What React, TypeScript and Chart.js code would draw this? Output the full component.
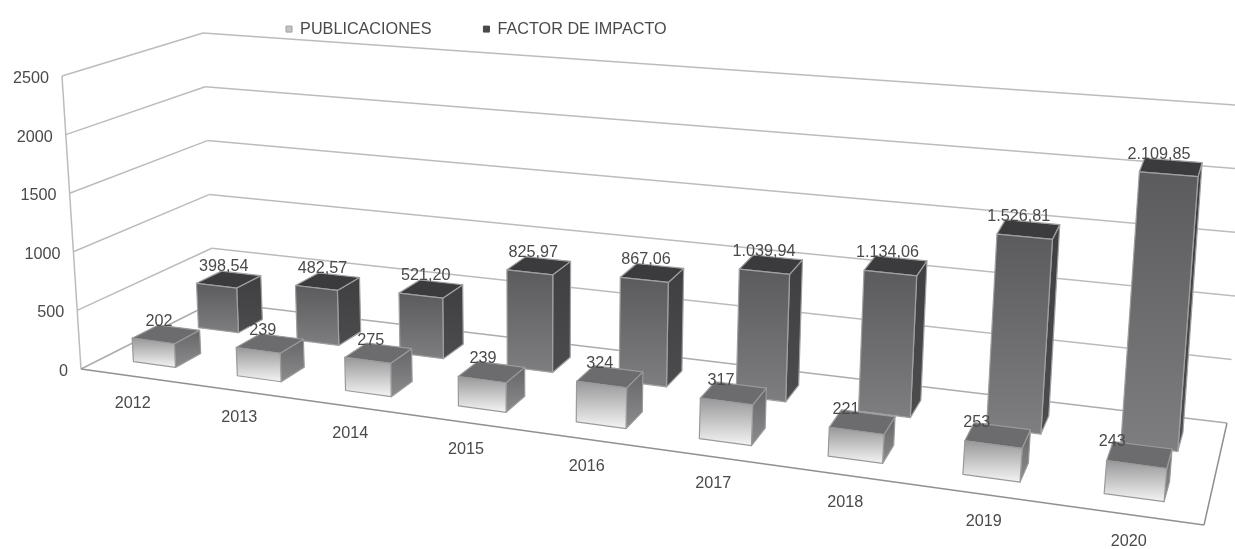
import React, { useEffect, useRef } from "react";
import { Chart, registerables } from "chart.js";

Chart.register(...registerables);

const categories = ["2012", "2013", "2014", "2015", "2016", "2017", "2018", "2019", "2020"];
const publicaciones = [202, 239, 275, 239, 324, 317, 221, 253, 243];
const factorImpacto = [398.54, 482.57, 521.2, 825.97, 867.06, 1039.94, 1134.06, 1526.81, 2109.85];
const yTicks = [0, 500, 1000, 1500, 2000, 2500];
const Y_MAX = 2500;

type Pt = [number, number];
// projection corners of the 3D box: front/back, left/right, floor/top
const FL0: Pt = [81, 369], FLT: Pt = [62, 76];
const BL0: Pt = [214, 302], BLT: Pt = [203, 33];
const FR0: Pt = [1204, 525], FRT: Pt = [1235, 176];
const BR0: Pt = [1227, 423], BRT: Pt = [1250, 106];
const PERSP = 1.22;
const TEXT = "#4a4a4c";
const FAMILY = "'Liberation Sans', Arial, sans-serif";
const FONT = "16.2px " + FAMILY;

const lerp = (a: Pt, b: Pt, k: number): Pt => [a[0] + (b[0] - a[0]) * k, a[1] + (b[1] - a[1]) * k];
const persp = (t: number) => t / (t + PERSP * (1 - t));
// t: position along category axis, v: depth, w: height fraction
function project(t: number, v: number, w: number): Pt {
  const u = persp(t);
  const f = lerp(lerp(FL0, FR0, u), lerp(FLT, FRT, u), w);
  const b = lerp(lerp(BL0, BR0, u), lerp(BLT, BRT, u), w);
  return lerp(f, b, v);
}

function fmt(n: number, decimals: boolean): string {
  if (!decimals) return String(n);
  const [i, d] = n.toFixed(2).split(".");
  return i.replace(/\B(?=(\d{3})+$)/g, ".") + "," + d;
}

function poly(ctx: CanvasRenderingContext2D, pts: Pt[], fill: string | CanvasGradient, stroke: string, lw = 1.2) {
  ctx.beginPath();
  pts.forEach((p, i) => (i ? ctx.lineTo(p[0], p[1]) : ctx.moveTo(p[0], p[1])));
  ctx.closePath();
  ctx.fillStyle = fill;
  ctx.fill();
  ctx.strokeStyle = stroke;
  ctx.lineWidth = lw;
  ctx.lineJoin = "round";
  ctx.stroke();
}

function line(ctx: CanvasRenderingContext2D, a: Pt, b: Pt, color: string, lw: number) {
  ctx.beginPath();
  ctx.moveTo(a[0], a[1]);
  ctx.lineTo(b[0], b[1]);
  ctx.strokeStyle = color;
  ctx.lineWidth = lw;
  ctx.stroke();
}

const styles = [
  { v0: 0.17, v1: 0.37, front: ["#98989a", "#f4f4f4"], side: ["#666668", "#8c8c8e"], top: "#6c6c6e", edge: "#9a9a9a", dec: false },
  { v0: 0.67, v1: 0.86, front: ["#5b5b5d", "#7e7e80"], side: ["#3f3f41", "#4c4c4e"], top: "#3b3b3d", edge: "#a0a0a2", dec: true },
];

const box3d = {
  id: "box3d",
  beforeDatasetsDraw(chart: any) {
    const ctx: CanvasRenderingContext2D = chart.ctx;
    const { left, width } = chart.chartArea;
    const yScale = chart.scales.y;
    ctx.save();

    // walls and floor
    for (const val of yTicks) {
      const w = val / Y_MAX;
      const col = val === 0 ? "#acacac" : "#bcbcbc";
      line(ctx, project(0, 0, w), project(0, 1, w), col, 1.5);
      line(ctx, project(0, 1, w), project(1, 1, w), col, 1.5);
    }
    line(ctx, project(0, 0, 0), project(0, 0, 1), "#bcbcbc", 1.5);
    line(ctx, project(0, 0, 0), project(1, 0, 0), "#909090", 1.5);
    line(ctx, project(1, 0, 0), project(1, 1, 0), "#909090", 1.5);

    // boxes, back row first
    const labels: { text: string; p: Pt }[] = [];
    [1, 0].forEach((dsIndex) => {
      const s = styles[dsIndex];
      const meta = chart.getDatasetMeta(dsIndex);
      const values: number[] = chart.data.datasets[dsIndex].data;
      meta.data.forEach((el: any, i: number) => {
        const t0 = (el.x - el.width / 2 - left) / width;
        const t1 = (el.x + el.width / 2 - left) / width;
        const h = yScale.getValueForPixel(el.y) / Y_MAX;
        const fb0 = project(t0, s.v0, 0), fb1 = project(t1, s.v0, 0);
        const ft0 = project(t0, s.v0, h), ft1 = project(t1, s.v0, h);
        const bb1 = project(t1, s.v1, 0), bt1 = project(t1, s.v1, h);
        const bt0 = project(t0, s.v1, h);

        const fg = ctx.createLinearGradient(0, ft0[1], 0, fb1[1]);
        fg.addColorStop(0, s.front[0]);
        fg.addColorStop(1, s.front[1]);
        const sg = ctx.createLinearGradient(0, bt1[1], 0, fb1[1]);
        sg.addColorStop(0, s.side[0]);
        sg.addColorStop(1, s.side[1]);

        poly(ctx, [ft1, bt1, bb1, fb1], sg, s.edge);
        poly(ctx, [ft0, ft1, bt1, bt0], s.top, s.edge);
        poly(ctx, [ft0, ft1, fb1, fb0], fg, s.edge);

        const cx = (ft0[0] + bt1[0]) / 2;
        const cy = (ft0[1] + ft1[1] + bt1[1] + bt0[1]) / 4;
        const k = Math.pow((el.x - left) / width, 3);
        const dx = dsIndex === 0 ? -7 - 24 * k : -5 - 8 * k;
        labels.push({ text: fmt(values[i], s.dec), p: [cx + dx, cy - 13] });
      });
    });

    ctx.font = FONT;
    ctx.fillStyle = TEXT;
    ctx.textBaseline = "middle";
    ctx.textAlign = "center";
    labels.forEach((l) => ctx.fillText(l.text, l.p[0], l.p[1]));

    // category labels on the floor edge
    categories.forEach((c, i) => {
      const p = project((i + 0.5) / categories.length, 0, 0);
      ctx.fillText(c, p[0], p[1] + 27);
    });

    // value labels on the left wall edge
    ctx.textAlign = "right";
    yTicks.forEach((val) => {
      const p = project(0, 0, val / Y_MAX);
      ctx.fillText(String(val), p[0] - 13, p[1] + 2.5);
    });

    ctx.restore();
    return false;
  },
};

export default function App() {
  const ref = useRef<HTMLCanvasElement | null>(null);
  useEffect(() => {
    if (!ref.current) return;
    const chart = new Chart(ref.current, {
      type: "bar",
      data: {
        labels: categories,
        datasets: [
          { label: "PUBLICACIONES", data: publicaciones, backgroundColor: "#c4c4c4", borderColor: "#a0a0a0", borderWidth: 1 },
          { label: "FACTOR DE IMPACTO", data: factorImpacto, backgroundColor: "#4a4a4c", borderColor: "#4a4a4c", borderWidth: 1 },
        ],
      },
      options: {
        responsive: false,
        animation: false,
        layout: { padding: { left: 234, top: -31, right: 10, bottom: 10 } },
        datasets: { bar: { grouped: false, barPercentage: 0.41, categoryPercentage: 1 } },
        scales: {
          x: { display: false, offset: true },
          y: { display: false, min: 0, max: Y_MAX, beginAtZero: true },
        },
        plugins: {
          tooltip: { enabled: false },
          legend: {
            position: "top",
            align: "start",
            labels: {
              boxWidth: 6,
              boxHeight: 6,
              padding: 52,
              color: TEXT,
              font: { family: FAMILY, size: 16.2 },
            },
          },
        },
      } as any,
      plugins: [box3d as any],
    });
    return () => chart.destroy();
  }, []);
  return (
    <div style={{ position: "fixed", left: 0, top: 0, width: 1235, height: 549, background: "#fff", overflow: "hidden" }}>
      <canvas ref={ref} width={1235} height={549} style={{ display: "block", filter: "blur(0.65px)" }} />
    </div>
  );
}
